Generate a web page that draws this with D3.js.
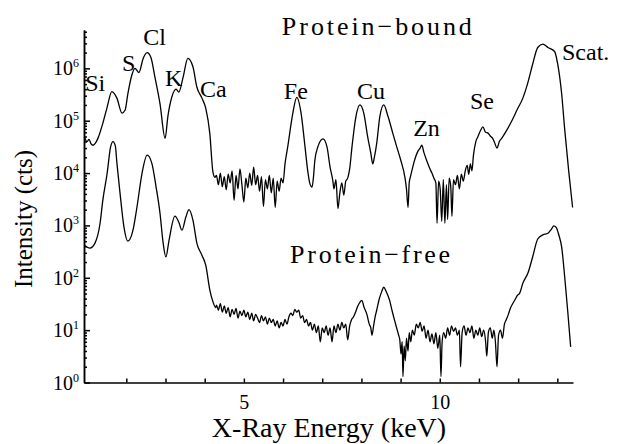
<!DOCTYPE html>
<html>
<head>
<meta charset="utf-8">
<script src="https://cdn.jsdelivr.net/npm/d3@7"></script>
<style>
body { margin: 0; background: #fff; }
svg text { font-family: "Liberation Serif", "Times New Roman", serif; fill: #000; }
.axis path, .axis line { stroke: #000; stroke-width: 1.5; }
.spec { fill: none; stroke: #000; stroke-width: 1.3; stroke-linejoin: round; }
</style>
</head>
<body>
<div id="chart"></div>
<script>
// protein-bound spectrum (upper trace)
var boundEnergy = [
  0.93,1.00,1.05,1.10,1.15,1.22,1.28,1.40,1.51,1.63,1.76,1.89,1.97,2.04,2.14,2.22,2.32,2.43,2.53,2.63,
  2.73,2.86,2.99,3.06,3.16,3.27,3.34,3.45,3.57,3.70,3.80,3.93,4.03,4.13,4.21,4.26,
  4.30,4.35,4.40,4.45,4.50,4.55,4.60,4.65,4.70,4.75,4.80,4.85,4.90,4.95,5.00,5.05,5.10,5.15,5.20,5.25,
  5.30,5.35,5.40,5.45,5.50,5.55,5.60,5.65,5.70,5.75,5.80,5.85,5.90,5.95,6.00,
  6.05,6.12,6.25,6.35,6.46,6.56,6.63,6.68,6.74,6.78,6.81,6.89,7.02,7.12,7.20,7.27,
  7.30,7.35,7.40,7.45,7.50,7.55,7.60,7.65,7.70,7.76,7.86,7.96,8.06,8.16,8.24,8.29,8.33,8.39,8.47,8.57,
  8.68,8.80,8.90,9.01,9.11,9.15,9.19,9.22,9.26,9.31,9.38,9.44,9.50,9.54,9.60,9.67,9.75,9.80,
  9.85,9.90,9.93,9.97,10.01,10.05,10.09,10.13,10.17,10.20,10.24,10.28,10.31,10.35,10.40,10.45,10.50,10.55,10.60,10.65,
  10.70,10.74,10.78,10.82,10.86,10.92,10.97,11.04,11.10,11.17,11.23,11.30,11.35,11.40,11.46,11.52,11.58,11.71,11.84,11.97,
  12.12,12.25,12.37,12.50,12.63,12.76,12.93,13.01,13.11,13.19,13.29,13.39
];
var boundCounts = [
  4.9e4,4.0e4,4.4e4,3.6e4,3.4e4,3.8e4,4.7e4,8.9e4,1.8e5,3.6e5,2.7e5,1.4e5,1.6e5,3.3e5,7.4e5,1.0e6,8.3e5,1.55e6,2.0e6,1.6e6,
  6.8e5,2.1e5,4.6e4,1.2e5,2.8e5,4.0e5,3.5e5,6.8e5,1.55e6,1.07e6,4.4e5,2.7e5,1.7e5,5.8e4,1.05e4,8.3e3,
  9.0e3,6.0e3,1.0e4,5.5e3,8.5e3,4.8e3,9.5e3,6.5e3,1.1e4,3.0e3,9.0e3,5.0e3,1.2e4,6.0e3,2.8e3,8.0e3,5.2e3,1.0e4,5.8e3,1.3e4,
  6.0e3,9.0e3,4.5e3,8.5e3,2.3e3,7.5e3,5.0e3,9.0e3,4.2e3,8.0e3,2.2e3,7.0e3,4.5e3,8.0e3,6.5e3,
  1.5e4,3.2e4,1.4e5,2.8e5,1.4e5,3.2e4,1.1e4,6.5e3,5.4e3,9.0e3,1.7e4,3.2e4,4.5e4,3.2e4,1.3e4,7.2e3,
  5.0e3,7.5e3,2.1e3,4.2e3,6.5e3,3.8e3,7.0e3,8.0e3,1.2e4,3.2e4,1.2e5,2.0e5,1.4e5,4.9e4,2.4e4,1.5e4,2.0e4,3.7e4,1.2e5,2.0e5,
  1.2e5,5.8e4,3.2e4,1.7e4,8.3e3,5.0e3,2.2e3,6.5e3,9.0e3,1.3e4,2.0e4,2.6e4,3.0e4,3.4e4,2.4e4,1.7e4,1.2e4,1.0e4,
  8.0e3,6.5e3,1.1e3,7.0e3,5.0e3,1.2e3,7.5e3,1.1e3,6.0e3,1.3e3,8.0e3,5.5e3,1.5e3,7.5e3,6.0e3,9.0e3,5.0e3,9.5e3,7.0e3,1.1e4,
  1.4e4,9.5e3,1.5e4,1.1e4,2.2e4,4.0e4,4.9e4,6.5e4,7.6e4,6.0e4,5.8e4,5.0e4,4.6e4,3.8e4,3.0e4,4.0e4,4.6e4,6.6e4,1.0e5,1.6e5,
  2.7e5,5.4e5,1.2e6,2.5e6,2.9e6,2.5e6,2.1e6,1.2e6,3.3e5,6.6e4,1.1e4,2.2e3
];

// protein-free spectrum (lower trace)
var freeEnergy = [
  0.93,1.07,1.20,1.33,1.40,1.51,1.60,1.66,1.72,1.76,1.84,1.94,2.04,2.17,2.27,2.40,2.53,2.65,2.76,2.86,
  2.94,3.01,3.09,3.24,3.34,3.42,3.52,3.60,3.70,3.80,3.93,4.03,4.13,4.21,4.28,
  4.30,4.35,4.40,4.45,4.50,4.55,4.60,4.65,4.70,4.75,4.80,4.85,4.90,4.95,5.00,5.05,5.10,5.15,5.20,5.25,
  5.30,5.35,5.40,5.45,5.50,5.55,5.60,5.65,5.70,5.75,5.80,5.85,5.90,5.95,6.00,6.05,6.10,6.15,6.20,6.25,
  6.30,6.35,6.40,6.45,6.50,6.55,6.60,6.65,6.70,6.75,6.80,6.85,6.90,6.95,7.00,7.05,7.10,7.15,7.20,7.25,
  7.30,7.35,7.40,7.45,7.50,7.55,7.60,7.65,7.70,7.75,7.80,
  7.85,7.90,7.95,8.01,8.07,8.14,8.20,8.24,8.27,8.31,8.35,8.39,8.45,8.52,8.57,8.63,8.72,8.78,8.85,8.90,
  8.95,8.98,9.01,9.04,9.06,9.09,9.12,9.15,9.19,9.22,9.26,9.30,9.35,9.40,9.45,9.50,9.55,9.60,9.65,9.70,
  9.75,9.80,9.85,9.90,9.95,10.00,10.03,10.06,10.10,10.15,10.20,10.25,10.30,10.35,10.40,10.45,10.50,10.53,10.57,10.62,
  10.67,10.72,10.77,10.82,10.87,10.92,10.97,11.02,11.07,11.12,11.17,11.20,11.24,11.29,11.34,11.38,11.42,11.46,11.50,11.55,
  11.60,11.65,11.70,11.75,11.80,11.86,11.92,11.98,12.04,12.12,12.25,12.37,12.50,12.63,12.76,12.85,12.91,12.97,13.04,13.11,
  13.19,13.27,13.34
];
var freeCounts = [
  420,370,460,1100,3000,9800,3.2e4,4.0e4,3.3e4,1.55e4,4100,930,500,810,2200,9800,2.2e4,1.55e4,5400,1700,
  460,250,520,1500,1150,810,1450,2000,1260,460,270,170,59,35,27,
  30,24,32,22,29,21,27,18,25,20,26,17,23,19,24,18,22,16,21,15,
  20,17,14,19,15,18,13,17,14,16,12,15,11,14,12,16,13,18,21,19,
  25,22,24,17,19,14,16,12,14,10,13,9,12,6,11,9,12,8,11,6,
  12,9,13,10,14,11,13,6.5,12,16,18,
  22,28,33,37,27,20,13,11,8,12,18,24,38,55,66,55,37,24,15,11,
  8,6.5,3.5,6,1.3,5,2.6,7,4,9,6,10,8,13,11,14,9.5,12,7,10,
  6,8.5,5.5,9,4.5,8,1.3,6,9,7,11,8,12,9.5,11,8,10,2.0,9,12,
  8,11,9,12,7,10,8,11,7.5,10,6,3.2,9,11,7,10,6,2.0,8,10,
  7,13,16,20,26,32,38,46,51,79,123,250,550,660,710,850,980,920,650,390,
  100,21,4.8
];

var xTicks = [2, 3, 4, 5, 6, 7, 8, 9, 10, 11, 12, 13];
var xLabels = [5, 10];
var yMajor = [1, 10, 100, 1e3, 1e4, 1e5, 1e6];
var yExponents = ['0', '1', '2', '3', '4', '5', '6'];

// peak labels, placed at (energy, counts) of their left/baseline corner
var peakNames  = ['Si', 'S', 'Cl', 'K', 'Ca', 'Fe', 'Cu', 'Zn', 'Se', 'Scat.'];
var peakEnergy = [0.95, 1.89, 2.43, 2.99, 3.88, 6.02, 7.89, 9.32, 10.77, 13.12];
var peakCounts = [3.7e5, 8.9e5, 2.8e6, 4.6e5, 2.8e5, 2.6e5, 2.6e5, 5.1e4, 1.7e5, 1.45e6];

var width = 618, height = 444;
var svg = d3.select('#chart').append('svg')
    .attr('width', width).attr('height', height);

var x = d3.scaleLinear().domain([0.92, 13.4]).range([84, 573]);
var y = d3.scaleLog().domain([1, 5.4e6]).range([382.5, 30]);

var line = d3.line()
    .x(function(d) { return x(d[0]); })
    .y(function(d) { return y(d[1]); })
    .curve(d3.curveMonotoneX);

svg.append('path').attr('class', 'spec')
    .attr('d', line(d3.zip(boundEnergy, boundCounts)));
svg.append('path').attr('class', 'spec')
    .attr('d', line(d3.zip(freeEnergy, freeCounts)));

// x axis, ticks pointing inward
var xAxis = d3.axisBottom(x)
    .tickValues(xTicks)
    .tickSize(-4)
    .tickSizeOuter(0)
    .tickPadding(12)
    .tickFormat(function(d) { return xLabels.indexOf(d) >= 0 ? d : ''; });
var gx = svg.append('g').attr('class', 'axis')
    .attr('transform', 'translate(0,' + y(1) + ')')
    .call(xAxis);
gx.selectAll('text')
    .style('font-family', '"Liberation Serif", serif')
    .style('font-size', '20px');

// y axis: minor + major ticks, inward
var yMinor = [];
yMajor.forEach(function(m) {
    for (var k = 2; k < 10; k++) {
        if (m * k < 5.4e6) yMinor.push(m * k);
    }
});
svg.append('g').attr('class', 'axis')
    .attr('transform', 'translate(' + x(0.92) + ',0)')
    .call(d3.axisLeft(y).tickValues(yMinor).tickSize(-3).tickSizeOuter(0).tickFormat(''));
var gy = svg.append('g').attr('class', 'axis')
    .attr('transform', 'translate(' + x(0.92) + ',0)')
    .call(d3.axisLeft(y).tickValues(yMajor).tickSize(-6).tickSizeOuter(0).tickFormat(''));

var yLab = svg.selectAll('.ylab')
    .data(yMajor)
    .enter().append('text')
    .attr('class', 'ylab')
    .attr('text-anchor', 'end')
    .attr('x', x(0.92) - 5)
    .attr('y', function(d) { return y(d) + 7; })
    .style('font-size', '20px');
yLab.append('tspan').text('10');
yLab.append('tspan')
    .attr('dy', -8)
    .style('font-size', '12px')
    .text(function(d, i) { return yExponents[i]; });

// axis titles
svg.append('text')
    .attr('x', 329).attr('y', 437)
    .attr('text-anchor', 'middle')
    .style('font-size', '28px')
    .text('X-Ray Energy (keV)');
svg.append('text')
    .attr('transform', 'translate(32,219) rotate(-90)')
    .attr('text-anchor', 'middle')
    .style('font-size', '25px')
    .text('Intensity (cts)');

// peak labels
svg.selectAll('.peak')
    .data(peakNames)
    .enter().append('text')
    .attr('class', 'peak')
    .attr('x', function(d, i) { return x(peakEnergy[i]); })
    .attr('y', function(d, i) { return y(peakCounts[i]); })
    .style('font-size', '24px')
    .text(function(d) { return d; });

// trace names
svg.append('text')
    .attr('x', x(5.97)).attr('y', y(4.4e6))
    .attr('textLength', 190).attr('lengthAdjust', 'spacing')
    .style('font-size', '26px')
    .text('Protein\u2212bound');
svg.append('text')
    .attr('x', x(6.18)).attr('y', y(190))
    .attr('textLength', 160).attr('lengthAdjust', 'spacing')
    .style('font-size', '26px')
    .text('Protein\u2212free');
</script>
</body>
</html>
